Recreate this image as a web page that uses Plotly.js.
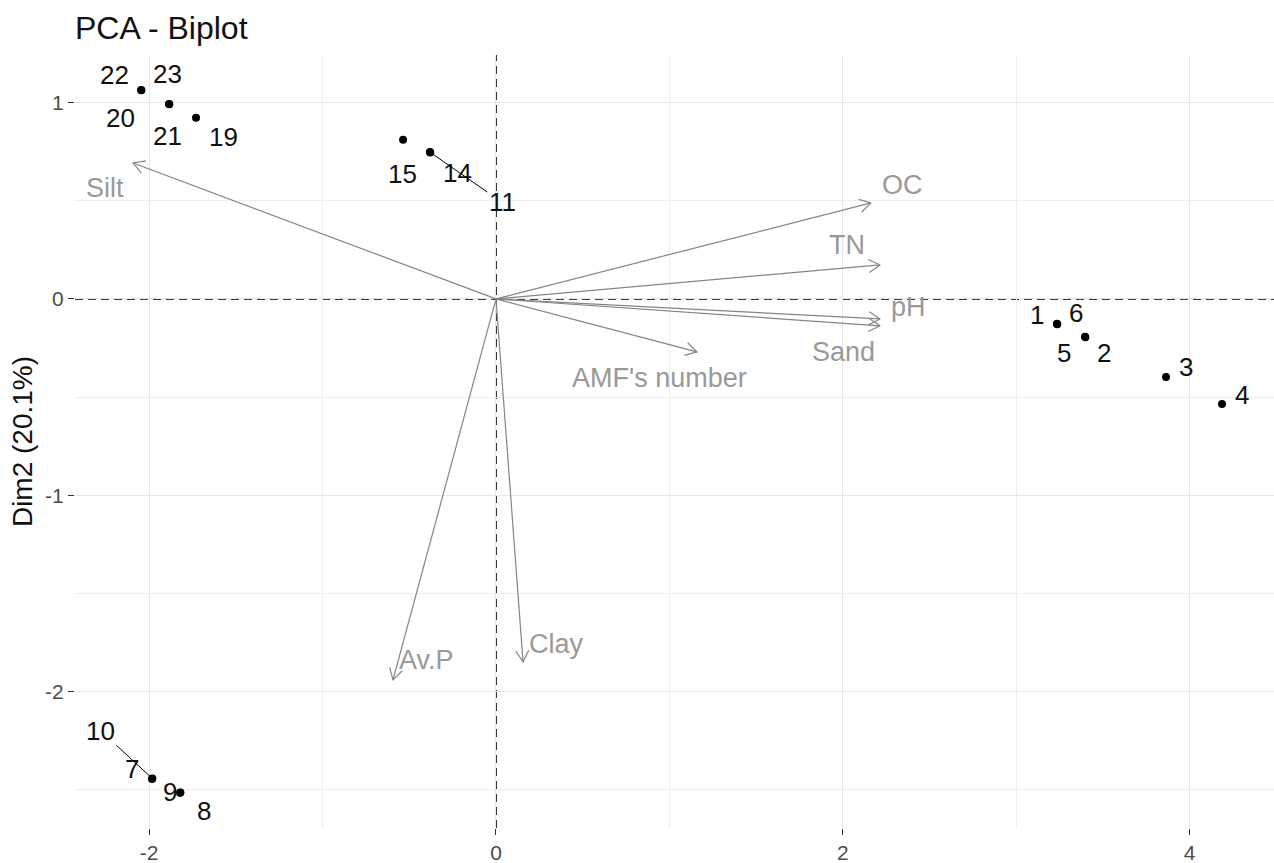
<!DOCTYPE html>
<html>
<head>
<meta charset="utf-8">
<script src="https://cdn.plot.ly/plotly-3.0.1.min.js"></script>
<style>html,body{margin:0;padding:0;background:#fff;}#chart{width:1274px;height:863px;}</style>
</head>
<body>
<div id="chart"></div>
<script>
// ---- data ----
const pointIds = ["22","20","23","21","19","15","14","11","1","5","6","2","3","4","7","10","9","8"];
const dim1 = [-2.047,-2.045,-1.886,-1.884,-1.730,-0.536,-0.381,-0.379,3.235,3.237,3.397,3.399,3.864,4.187,-1.984,-1.982,-1.822,-1.820];
const dim2 = [1.064,1.062,0.993,0.991,0.922,0.810,0.748,0.746,-0.127,-0.129,-0.193,-0.195,-0.397,-0.535,-2.444,-2.442,-2.515,-2.513];

const varNames = ["Silt","OC","TN","pH","Sand","AMF's number","Av.P","Clay"];
const varDim1 = [-2.093,2.163,2.215,2.215,2.215,1.159,-0.594,0.156];
const varDim2 = [0.692,0.489,0.173,-0.102,-0.137,-0.270,-1.940,-1.848];

const xTicks = [-2,0,2,4];
const yTicks = [-2,-1,0,1];

// ---- label placement (pixel offsets, screen coords) ----
const pointLabelOffsets = {
  "22":[-27,-15],"20":[-21,28],"23":[-1,-30],"21":[-2,32],"19":[27,19],
  "15":[-1,34],"14":[28,21],"11":[72,50],
  "1":[-20,-9],"5":[7,29],"6":[-9,-24],"2":[19,16],"3":[20,-10],"4":[20,-9],
  "7":[-20,-10],"10":[-52,-48],"9":[-10,-1],"8":[24,19]
};
const pointLabelSegments = {"11":true,"10":true};
const varLabelOffsets = [[-28,25],[31,-18],[-33,-20],[28,-12],[-37,26],[-37,26],[33,-20],[33,-18]];

// ---- layout geometry ----
const W = 1274, H = 863;
const margin = {l:75, r:0, t:55, b:35};
const xRange = [-2.428, 4.487];
const yRange = [-2.694, 1.242];
const pw = W - margin.l - margin.r, ph = H - margin.t - margin.b;
const kx = pw / (xRange[1]-xRange[0]);
const ky = ph / (yRange[1]-yRange[0]);

const FONT = "Liberation Sans, Arial, Helvetica, sans-serif";
const arrowColor = "#858585";
const varLabelColor = "#999999";

// arrows (shaft + open head) computed from variable coordinates
const ax = [], ay = [];
const headLen = 13, headAng = Math.PI/6;
for (let i=0;i<varNames.length;i++){
  const vx = varDim1[i], vy = varDim2[i];
  ax.push(0, vx, null); ay.push(0, vy, null);
  const px = vx*kx, py = vy*ky;
  const len = Math.hypot(px,py);
  const bx = -px/len, by = -py/len;
  const hp = [];
  for (const s of [1,-1]){
    const c = Math.cos(s*headAng), sn = Math.sin(s*headAng);
    const rx = bx*c - by*sn, ry = bx*sn + by*c;
    hp.push([vx + rx*headLen/kx, vy + ry*headLen/ky]);
  }
  ax.push(hp[0][0], vx, hp[1][0], null);
  ay.push(hp[0][1], vy, hp[1][1], null);
}

const traces = [
  {type:"scatter", mode:"lines", x:ax, y:ay, line:{color:arrowColor, width:1.2}, hoverinfo:"skip", showlegend:false},
  {type:"scatter", mode:"markers", x:dim1, y:dim2, marker:{color:"#000", size:8}, showlegend:false, hoverinfo:"text", text:pointIds}
];

const annotations = [];
pointIds.forEach((id,i)=>{
  const off = pointLabelOffsets[id];
  if (pointLabelSegments[id]) {
    annotations.push({x:dim1[i], y:dim2[i], xref:"x", yref:"y", text:id, showarrow:true,
      ax:off[0], ay:off[1], arrowhead:0, arrowwidth:1, arrowcolor:"#000", standoff:0, startstandoff:0,
      font:{family:FONT, size:26, color:"#111"}});
  } else {
    annotations.push({x:dim1[i], y:dim2[i], xref:"x", yref:"y", text:id, showarrow:false,
      xshift:off[0], yshift:-off[1], font:{family:FONT, size:26, color:"#111"}});
  }
});
varNames.forEach((nm,i)=>{
  const off = varLabelOffsets[i];
  annotations.push({x:varDim1[i], y:varDim2[i], xref:"x", yref:"y", text:nm, showarrow:false,
    xshift:off[0], yshift:-off[1], font:{family:FONT, size:27, color:varLabelColor}});
});

const layout = {
  width:W, height:H, margin:margin,
  paper_bgcolor:"#fff", plot_bgcolor:"#fff",
  font:{family:FONT, color:"#4d4d4d"},
  title:{text:"PCA - Biplot", font:{family:FONT, size:32, color:"#111"}, xref:"paper", x:0, xanchor:"left", yref:"container", y:0.968, yanchor:"middle"},
  xaxis:{range:xRange, tickmode:"array", tickvals:xTicks, ticktext:xTicks.map(String), zeroline:false, showline:false,
    showgrid:true, gridcolor:"#e6e6e6", gridwidth:1, ticks:"outside", ticklen:6, tickcolor:"#333", tickwidth:1,
    tickfont:{family:FONT, size:21, color:"#4d4d4d"},
    minor:{tickmode:"array", tickvals:[-1,1,3], showgrid:true, gridcolor:"#eeeeee", gridwidth:1, ticklen:0}},
  yaxis:{range:yRange, tickmode:"array", tickvals:yTicks, ticktext:yTicks.map(String), zeroline:false, showline:false,
    showgrid:true, gridcolor:"#e6e6e6", gridwidth:1, ticks:"outside", ticklen:6, tickcolor:"#333", tickwidth:1,
    tickfont:{family:FONT, size:21, color:"#4d4d4d"},
    title:{text:"Dim2 (20.1%)", font:{family:FONT, size:28, color:"#111"}, standoff:4},
    minor:{tickmode:"array", tickvals:[-2.5,-1.5,-0.5,0.5], showgrid:true, gridcolor:"#eeeeee", gridwidth:1, ticklen:0}},
  shapes:[
    {type:"line", xref:"x", yref:"paper", x0:0, x1:0, y0:0, y1:1, line:{color:"#000", width:1.6, dash:"8px,5px"}, layer:"below"},
    {type:"line", xref:"paper", yref:"y", x0:0, x1:1, y0:0, y1:0, line:{color:"#000", width:1.6, dash:"8px,5px"}, layer:"below"}
  ],
  annotations:annotations
};

Plotly.newPlot("chart", traces, layout, {displayModeBar:false, staticPlot:true});
</script>
</body>
</html>
